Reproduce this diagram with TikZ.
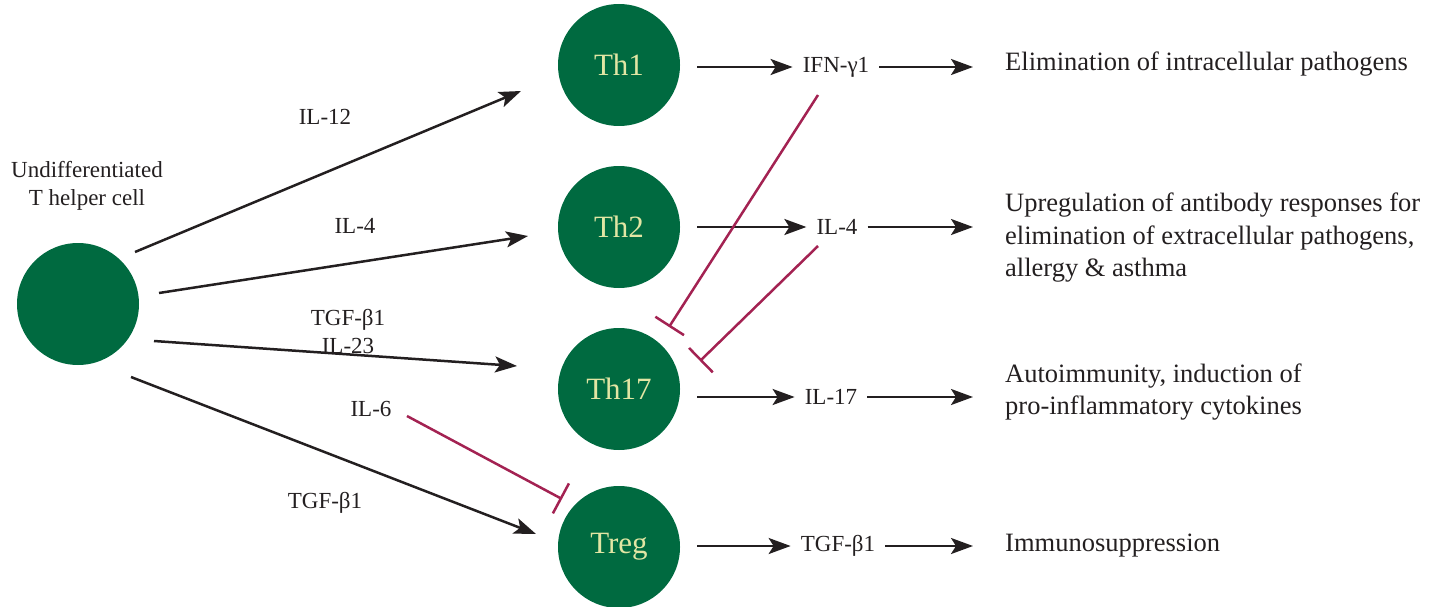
\documentclass[tikz,border=0pt]{standalone}
\usepackage{fontspec}
\setmainfont{Liberation Serif}
\usetikzlibrary{arrows.meta}
\definecolor{cellgreen}{RGB}{0,106,64}
\definecolor{celltext}{RGB}{226,230,164}
\definecolor{inhib}{RGB}{163,34,82}
\definecolor{ink}{RGB}{35,31,32}
\begin{document}
\begin{tikzpicture}[x=1pt,y=-1pt,
  font=\fontsize{23}{28}\selectfont, text=ink,
  cell/.style={circle, fill=cellgreen, minimum size=122pt, inner sep=0pt,
    text=celltext, font=\fontsize{31}{36}\selectfont},
  cyto/.style={inner xsep=10pt, inner ysep=2pt},
  outcome/.style={anchor=west, align=left, inner sep=0pt,
    font=\fontsize{26.5}{32.5}\selectfont},
  lbl/.style={inner sep=0pt},
  act/.style={draw=ink, line width=2.5pt,
    -{Stealth[length=22pt,width=16pt,inset=5pt]}},
  inh/.style={draw=inhib, line width=2.5pt, -{Bar[width=34pt]}}]
\useasboundingbox (0,0) rectangle (1442,607);

% cells
\node[cell] (undiff) at (78,304) {};
\node[lbl, align=center] (undifflbl) at (87,186)
  {Undifferentiated\\T helper cell};
\node[cell] (th1) at (619,65) {Th1};
\node[cell] (th2) at (619,227) {Th2};
\node[cell] (th17) at (619,389) {Th17};
\node[cell] (treg) at (619,547) {Treg};

% inducing cytokines
\node[lbl] (l12) at (325,117) {IL-12};
\node[lbl] (l4) at (355,226) {IL-4};
\node[lbl, align=center] (l23) at (348,332) {TGF-β1\\IL-23};
\node[lbl] (l6) at (371,409) {IL-6};
\node[lbl] (ltgf) at (325,503) {TGF-β1};

% secreted cytokines
\node[cyto] (ifn) at (836,67) {IFN-γ1};
\node[cyto] (il4) at (837,227) {IL-4};
\node[cyto] (il17) at (831,397) {IL-17};
\node[cyto] (tgf) at (838,546) {TGF-β1};

% effector functions
\node[outcome] (o1) at (1005,64) {Elimination of intracellular pathogens};
\node[outcome] (o2) at (1005,238)
  {Upregulation of antibody responses for\\elimination of extracellular pathogens,\\allergy \& asthma};
\node[outcome] (o3) at (1005,392)
  {Autoimmunity, induction of\\pro-inflammatory cytokines};
\node[outcome] (o4) at (1005,546) {Immunosuppression};

% differentiation
\draw[act] ([shift={(57,-52)}]undiff.center) -- ([shift={(-98,26)}]th1.center);
\draw[act] ([shift={(81,-11)}]undiff.center) -- ([shift={(-91,9)}]th2.center);
\draw[act] ([shift={(76,37)}]undiff.center) -- ([shift={(-102,-23)}]th17.center);
\draw[act] ([shift={(53,73)}]undiff.center) -- ([shift={(-83,-13)}]treg.center);

% secretion and effects
\foreach \c/\k/\o in {th1/ifn/o1, th2/il4/o2, th17/il17/o3, treg/tgf/o4} {
  \draw[act, shorten <=17pt] (\c.east |- \k.west) -- (\k.west);
  \draw[act, shorten >=32pt] (\k.east) -- (\k.east -| \o.west);
}

% inhibition
\draw[inh] ([shift={(-18,28)}]ifn.center) -- ([shift={(50,-62)}]th17.center);
\draw[inh] ([shift={(-19,19)}]il4.center) -- ([shift={(81,-28)}]th17.center);
\draw[inh] ([shift={(36,7)}]l6.center) -- ([shift={(-57,-48)}]treg.center);
\end{tikzpicture}
\end{document}
